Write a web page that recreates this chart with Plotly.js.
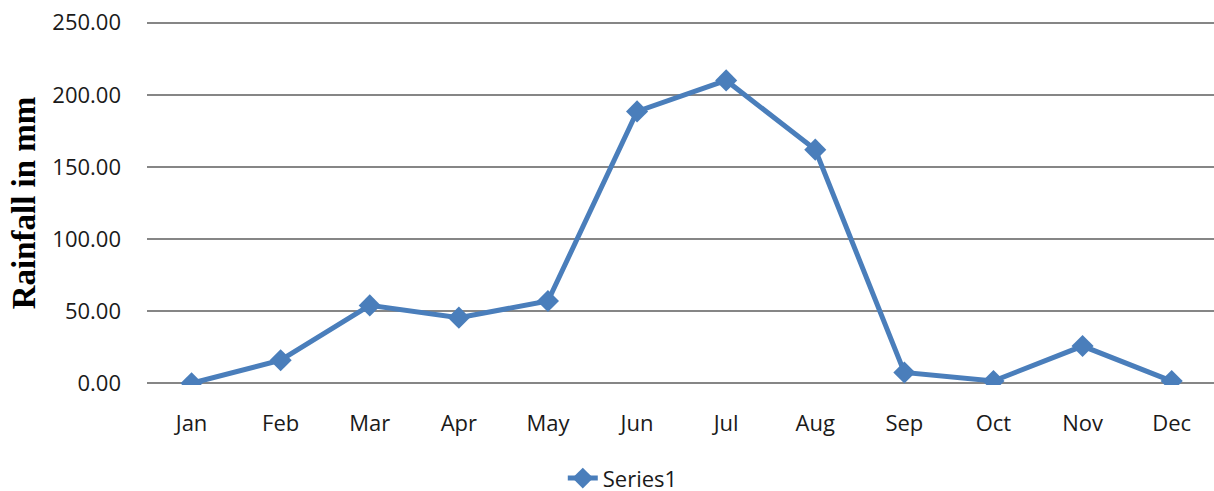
<!DOCTYPE html>
<html>
<head>
<meta charset="utf-8">
<script src="https://cdn.plot.ly/plotly-3.0.1.min.js"></script>
<style>
  html, body { margin: 0; padding: 0; background: #fff; }
  #chart { width: 1214px; height: 491px; }
</style>
</head>
<body>
<div id="chart"></div>
<script>
// Monthly rainfall (mm)
const months = ['Jan', 'Feb', 'Mar', 'Apr', 'May', 'Jun', 'Jul', 'Aug', 'Sep', 'Oct', 'Nov', 'Dec'];
const rainfall = [0.0, 16.0, 54.0, 45.5, 57.0, 188.5, 210.0, 162.0, 7.5, 1.6, 25.8, 1.5];
const seriesName = 'Series1';
const yTickValues = [0, 50, 100, 150, 200, 250];

const trace = {
  x: months,
  y: rainfall,
  name: seriesName,
  type: 'scatter',
  mode: 'lines+markers',
  line: { color: '#4a7ebb', width: 5 },
  marker: { symbol: 'diamond', size: 17, color: '#4a7ebb' },
  showlegend: true
};

const labelFont = { family: 'Open Sans, sans-serif', size: 22, color: '#1a1a1a' };

const layout = {
  width: 1214,
  height: 491,
  margin: { l: 147, r: 0, t: 21, b: 106 },
  paper_bgcolor: '#ffffff',
  plot_bgcolor: '#ffffff',
  font: labelFont,
  xaxis: {
    type: 'category',
    range: [-0.5, 11.475],
    showgrid: false,
    zeroline: false,
    showline: false,
    ticks: '',
    ticklabelstandoff: 23,
    tickfont: labelFont
  },
  yaxis: {
    // padded a little so the 0 and 250 gridlines stay inside the plot
    range: [-1.2, 251.2],
    tickvals: yTickValues,
    tickformat: '.2f',
    showgrid: true,
    gridcolor: '#868686',
    gridwidth: 1.6,
    zeroline: false,
    showline: false,
    ticks: '',
    ticklabelstandoff: 25,
    tickfont: labelFont,
    title: {
      text: 'Rainfall in mm',
      font: { family: 'Liberation Serif, Times New Roman, serif', size: 33, color: '#000000', weight: 'bold' },
      standoff: 6
    },
    automargin: false
  },
  showlegend: true,
  legend: {
    orientation: 'h',
    xref: 'container',
    yref: 'container',
    x: 0.513,
    xanchor: 'center',
    y: 0.026,
    yanchor: 'middle',
    font: labelFont,
    bgcolor: 'rgba(0,0,0,0)'
  }
};

// make sure text metrics use the real fonts before laying out
const fontsReady = document.fonts
  ? Promise.all([
      document.fonts.load('22px "Open Sans"'),
      document.fonts.load('bold 33px "Liberation Serif"')
    ]).catch(() => null)
  : Promise.resolve();

fontsReady.then(() => {
  Plotly.newPlot('chart', [trace], layout, { displayModeBar: false, staticPlot: true });
});
</script>
</body>
</html>
